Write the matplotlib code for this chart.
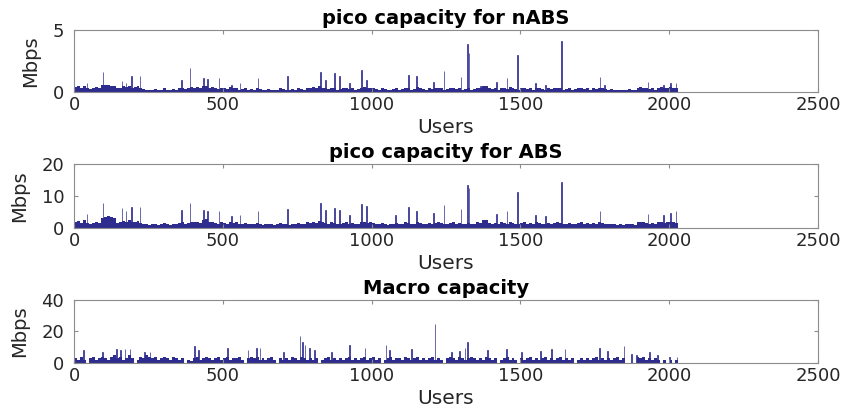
import numpy as np
import matplotlib
matplotlib.use("Agg")
from matplotlib import pyplot as plt

bar_color = "#2e2c8e"
axis_gray = "#8c8c8c"
text_gray = "#262626"

# background level of each panel, one value per 10 users (users 1..2030)
nabs_base = [
    0.4, 0.45, 0.35, 0.5, 0.3, 0.25, 0.35, 0.4, 0.3, 0.55, 0.6, 0.55, 0.5, 0.45, 0.3, 0.35, 0.45, 0.4, 0.5, 0.35,
    0.4, 0.45, 0.3, 0.25, 0.2, 0.15, 0.2, 0.25, 0.15, 0.2, 0.3, 0.2, 0.15, 0.25, 0.2, 0.3, 0.35, 0.25, 0.3, 0.4,
    0.35, 0.4, 0.3, 0.45, 0.5, 0.35, 0.4, 0.3, 0.25, 0.35, 0.3, 0.25, 0.4, 0.3, 0.35, 0.2, 0.25, 0.3, 0.2, 0.25,
    0.2, 0.3, 0.25, 0.15, 0.2, 0.25, 0.2, 0.15, 0.2, 0.3, 0.25, 0.2, 0.15, 0.25, 0.2, 0.3, 0.25, 0.2, 0.35, 0.3,
    0.4, 0.3, 0.45, 0.35, 0.3, 0.25, 0.35, 0.3, 0.2, 0.25, 0.3, 0.35, 0.25, 0.3, 0.2, 0.25, 0.35, 0.4, 0.3, 0.35,
    0.3, 0.25, 0.2, 0.3, 0.25, 0.15, 0.2, 0.25, 0.3, 0.2, 0.25, 0.35, 0.3, 0.2, 0.25, 0.4, 0.3, 0.25, 0.2, 0.3,
    0.25, 0.3, 0.35, 0.3, 0.2, 0.25, 0.3, 0.35, 0.25, 0.3, 0.2, 0.25, 0.3, 0.2, 0.25, 0.35, 0.3, 0.5, 0.5, 0.3,
    0.25, 0.3, 0.2, 0.35, 0.3, 0.25, 0.4, 0.3, 0.25, 0.2, 0.3, 0.35, 0.25, 0.3, 0.2, 0.35, 0.3, 0.25, 0.2, 0.3,
    0.25, 0.3, 0.35, 0.3, 0.2, 0.25, 0.3, 0.2, 0.25, 0.3, 0.35, 0.25, 0.3, 0.2, 0.3, 0.25, 0.35, 0.3, 0.25, 0.2,
    0.25, 0.2, 0.15, 0.2, 0.15, 0.2, 0.25, 0.2, 0.15, 0.35, 0.4, 0.35, 0.3, 0.25, 0.3, 0.2, 0.35, 0.4, 0.3, 0.35,
    0.4, 0.35, 0.3,
]
abs_base = [
    1.8, 2.2, 1.6, 2.4, 1.5, 1.3, 1.7, 2.0, 1.5, 3.0, 3.5, 3.6, 3.4, 3.2, 1.6, 1.8, 2.3, 2.0, 2.5, 1.8,
    2.0, 2.2, 1.5, 1.3, 1.1, 0.9, 1.1, 1.3, 0.9, 1.1, 1.5, 1.1, 0.9, 1.3, 1.1, 1.5, 1.8, 1.3, 1.5, 2.0,
    1.8, 2.0, 1.5, 2.6, 2.8, 1.8, 2.0, 1.5, 1.3, 1.8, 1.5, 1.3, 2.0, 1.5, 1.8, 1.1, 1.3, 1.5, 1.1, 1.3,
    1.1, 1.5, 1.3, 0.9, 1.1, 1.3, 1.1, 0.9, 1.1, 1.5, 1.3, 1.1, 0.9, 1.3, 1.1, 1.5, 1.3, 1.1, 1.8, 1.5,
    2.0, 1.5, 2.2, 1.8, 1.5, 1.3, 1.8, 1.5, 1.1, 1.3, 1.5, 1.8, 1.3, 1.5, 1.1, 1.3, 1.8, 2.0, 1.5, 1.8,
    1.5, 1.3, 1.1, 1.5, 1.3, 0.9, 1.1, 1.3, 1.5, 1.1, 1.3, 1.8, 1.5, 1.1, 1.3, 2.0, 1.5, 1.3, 1.1, 1.5,
    1.3, 1.5, 1.8, 1.5, 1.1, 1.3, 1.5, 1.8, 1.3, 1.5, 1.1, 1.3, 1.5, 1.1, 1.3, 1.8, 1.5, 2.5, 2.5, 1.5,
    1.3, 1.5, 1.1, 1.8, 1.5, 1.3, 2.0, 1.5, 1.3, 1.1, 1.5, 1.8, 1.3, 1.5, 1.1, 1.8, 1.5, 1.3, 1.1, 1.5,
    1.3, 1.5, 1.8, 1.5, 1.1, 1.3, 1.5, 1.1, 1.3, 1.5, 1.8, 1.3, 1.5, 1.1, 1.5, 1.3, 1.8, 1.5, 1.3, 1.1,
    1.3, 1.1, 0.9, 1.1, 0.9, 1.1, 1.3, 1.1, 0.9, 1.8, 2.0, 1.8, 1.5, 1.3, 1.5, 1.1, 1.8, 2.0, 1.5, 1.8,
    2.0, 1.8, 1.5,
]
macro_base = [
    3, 2, 4, 2, 0, 3, 4, 2, 3, 4, 3, 2, 4, 5, 3, 4, 2, 3, 5, 3,
    0, 2, 4, 3, 5, 4, 3, 4, 2, 3, 4, 3, 2, 4, 3, 2, 3, 0, 2, 1,
    3, 4, 2, 3, 4, 3, 2, 3, 4, 2, 3, 4, 2, 3, 3, 4, 2, 0, 3, 4,
    3, 4, 2, 3, 2, 3, 4, 2, 0, 3, 2, 3, 2, 4, 3, 2, 4, 3, 2, 3,
    2, 3, 0, 2, 3, 4, 2, 3, 2, 3, 2, 3, 4, 2, 3, 2, 3, 4, 2, 3,
    4, 2, 3, 0, 2, 3, 4, 2, 3, 3, 2, 4, 3, 2, 3, 4, 2, 3, 2, 3,
    4, 2, 3, 2, 0, 3, 4, 3, 2, 4, 3, 2, 3, 4, 3, 2, 3, 2, 4, 3,
    2, 3, 0, 2, 3, 4, 2, 3, 2, 0, 3, 2, 3, 4, 2, 3, 2, 3, 4, 2,
    3, 2, 3, 4, 2, 3, 2, 3, 0, 2, 3, 2, 3, 2, 3, 4, 2, 3, 2, 3,
    2, 3, 4, 2, 3, 0, 0, 0, 0, 4, 3, 4, 2, 3, 2, 3, 2, 0, 2, 0,
    2, 0, 2,
]

# individual peaks: user index and Mbps
nabs_peak_users = [44, 97, 161, 175, 194, 222, 362, 390, 435, 449, 487, 530, 558, 618, 718, 829, 846, 874,
                   891, 925, 967, 984, 1123, 1151, 1207, 1243, 1300, 1323, 1327, 1365, 1420, 1455, 1491,
                   1550, 1585, 1639, 1767, 1782, 1929, 1980, 2005, 2023]
nabs_peak_vals = [0.7, 1.6, 0.9, 0.7, 1.3, 1.25, 1.0, 1.9, 1.15, 1.05, 1.1, 0.6, 0.7, 1.1, 1.25, 1.6, 1.0, 1.5,
                  1.25, 0.7, 1.75, 1.0, 1.4, 1.25, 0.8, 1.7, 1.2, 3.9, 3.1, 0.5, 0.8, 1.1, 3.0,
                  0.75, 0.6, 4.1, 1.2, 0.55, 0.8, 0.55, 0.7, 0.75]
abs_peak_users = [44, 97, 161, 175, 194, 222, 362, 390, 435, 449, 487, 530, 558, 618, 718, 829, 846, 874,
                  891, 925, 967, 984, 1080, 1123, 1151, 1207, 1243, 1300, 1323, 1327, 1420, 1455, 1491,
                  1550, 1585, 1639, 1767, 1929, 1980, 2005, 2023]
abs_peak_vals = [4.4, 7.8, 6.1, 5.2, 6.5, 6.5, 5.7, 7.8, 5.7, 5.2, 5.2, 3.6, 4.0, 5.2, 6.0, 7.8, 5.5, 6.2,
                 5.7, 4.0, 7.5, 6.8, 4.2, 6.5, 5.4, 4.7, 7.1, 6.0, 13.5, 12.5, 4.5, 5.4, 11.2,
                 4.0, 3.6, 14.3, 5.2, 4.4, 4.0, 4.6, 5.2]
macro_peak_users = [31, 95, 143, 155, 171, 188, 238, 255, 406, 418, 515, 585, 614, 625, 705, 759, 768, 776,
                    792, 808, 865, 925, 978, 1048, 1061, 1135, 1213, 1268, 1294, 1314, 1323, 1390, 1452,
                    1503, 1567, 1605, 1650, 1765, 1792, 1848, 1873, 1890, 1933, 1960, 2000, 2026]
macro_peak_vals = [8.2, 6.7, 8.7, 8.2, 8.9, 8.9, 7.2, 6.8, 10.8, 8.2, 9.7, 8.2, 9.3, 9.3, 6.8, 17.1, 13.5, 11.4,
                   9.7, 8.2, 6.8, 11.4, 9.7, 11.4, 8.2, 8.9, 24.5, 7.2, 7.6, 9.3, 13.5, 8.2, 8.9,
                   7.2, 7.6, 8.9, 8.7, 9.7, 7.6, 10.8, 5.5, 5.0, 7.2, 5.0, 4.0, 3.5]

titles = ["pico capacity for nABS", "pico capacity for ABS", "Macro capacity"]
y_limits = [5, 20, 40]
y_ticks = [[0, 5], [0, 10, 20], [0, 20, 40]]
x_ticks = [0, 500, 1000, 1500, 2000, 2500]

panels = [
    (nabs_base, nabs_peak_users, nabs_peak_vals),
    (abs_base, abs_peak_users, abs_peak_vals),
    (macro_base, macro_peak_users, macro_peak_vals),
]
# axes boxes in figure fraction (left, bottom, width, height)
boxes = [
    (0.0876, 0.775, 0.8805, 0.152),
    (0.0876, 0.4425, 0.8805, 0.157),
    (0.0876, 0.1125, 0.8805, 0.154),
]

plt.rcParams["font.family"] = ["DejaVu Sans"]
fig = plt.figure(figsize=(8.45, 4.09), dpi=100)

for i in range(3):
    base, pk_users, pk_vals = panels[i]
    ax = fig.add_axes(boxes[i])
    pos = np.arange(len(base)) * 10 + 5
    ax.bar(pos, base, width=10, color=bar_color, linewidth=0)
    ax.bar(pk_users, pk_vals, width=2.5, color=bar_color, edgecolor=bar_color, linewidth=0.5)
    ax.set_xlim(0, 2500)
    ax.set_ylim(0, y_limits[i])
    ax.set_xticks(x_ticks)
    ax.set_yticks(y_ticks[i])
    ax.tick_params(direction="in", top=True, right=True, length=3, width=0.8,
                   colors=axis_gray, labelcolor=text_gray, labelsize=13)
    ax.tick_params(axis="x", pad=3)
    ax.tick_params(axis="y", pad=7)
    for sp in ax.spines.values():
        sp.set_color(axis_gray)
        sp.set_linewidth(0.8)
    ax.set_title(titles[i], fontsize=14, fontweight="bold", color="black", pad=4)
    ax.set_xlabel("Users", fontsize=14.5, color=text_gray, labelpad=3)
    ax.set_ylabel("Mbps", fontsize=14, color=text_gray, labelpad=9)

fig.savefig("out.png", dpi=100)
